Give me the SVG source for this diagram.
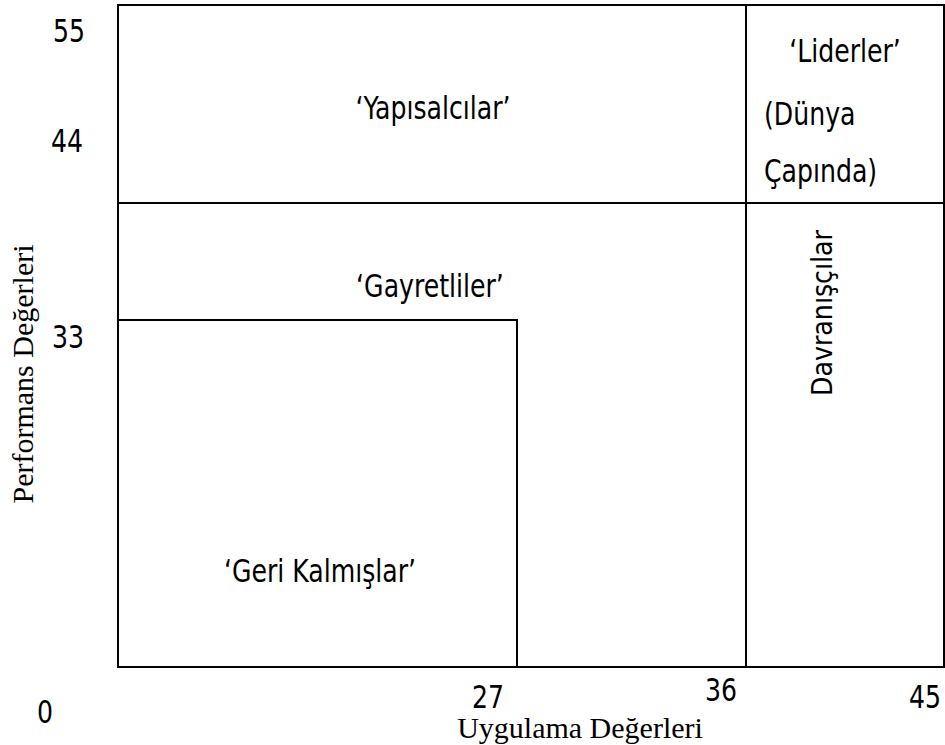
<svg xmlns="http://www.w3.org/2000/svg" width="945" height="745" viewBox="0 0 945 745">
  <style>
    .ln { fill: none; stroke: #000; stroke-width: 2; }
    .sans { font-family: "DejaVu Sans Condensed", "DejaVu Sans", sans-serif; font-size: 28px; fill: #000; }
    .num { font-family: "DejaVu Sans Condensed", "DejaVu Sans", sans-serif; font-size: 28px; fill: #000; }
    .serif { font-family: "Liberation Serif", "Times New Roman", serif; font-size: 30px; fill: #000; }
    .mid { text-anchor: middle; }
  </style>
  <rect width="945" height="745" fill="#fff"/>

  <!-- quadrant grid -->
  <g id="grid">
    <rect class="ln" x="118" y="5" width="826" height="662"/>
    <line class="ln" x1="118" y1="203" x2="944" y2="203"/>
    <line class="ln" x1="746" y1="5" x2="746" y2="667"/>
    <polyline class="ln" points="118,320 517,320 517,667"/>
  </g>

  <!-- axis values (tall, narrow digits) -->
  <g id="y-ticks" class="num mid">
    <text transform="translate(69,42) scale(1,1.15)">55</text>
    <text transform="translate(67,152) scale(1,1.15)">44</text>
    <text transform="translate(68,348) scale(1,1.15)">33</text>
  </g>
  <g id="x-ticks" class="num mid">
    <text transform="translate(45,723) scale(1,1.15)">0</text>
    <text transform="translate(488,708) scale(1,1.15)">27</text>
    <text transform="translate(721,701) scale(1,1.15)">36</text>
    <text transform="translate(925,708) scale(1,1.15)">45</text>
  </g>

  <!-- axis titles -->
  <text id="x-title" class="serif mid" x="580" y="738">Uygulama Değerleri</text>
  <text id="y-title" class="serif mid" transform="translate(33,374) rotate(-90)">Performans Değerleri</text>

  <!-- quadrant labels -->
  <g id="yapisalcilar"><text class="sans mid" transform="translate(433,119) scale(1,1.15)">‘Yapısalcılar’</text></g>
  <g id="liderler">
    <text class="sans mid" transform="translate(845,62) scale(1,1.15)">‘Liderler’</text>
    <text class="sans" transform="translate(764,125) scale(1,1.15)">(Dünya</text>
    <text class="sans" transform="translate(764,182) scale(1,1.15)">Çapında)</text>
  </g>
  <g id="gayretliler"><text class="sans mid" transform="translate(430,297) scale(1,1.15)">‘Gayretliler’</text></g>
  <g id="davranisciler"><text class="sans mid" transform="translate(832,313) rotate(-90)" textLength="166" lengthAdjust="spacingAndGlyphs">Davranışçılar</text></g>
  <g id="geri-kalmislar"><text class="sans mid" transform="translate(320,582) scale(1,1.15)">‘Geri Kalmışlar’</text></g>
</svg>
